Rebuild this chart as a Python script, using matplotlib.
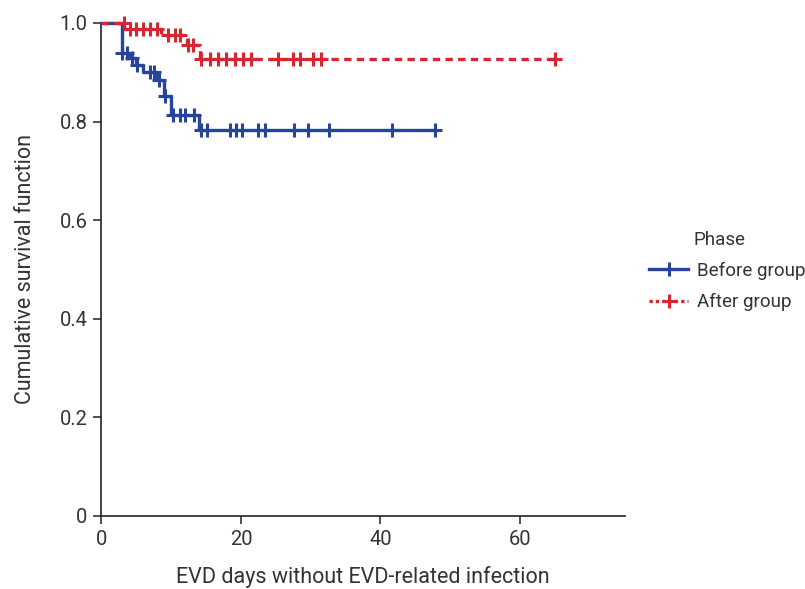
import matplotlib
matplotlib.use("Agg")
import matplotlib.pyplot as plt
from matplotlib.lines import Line2D
import numpy as np

plt.rcParams['font.family'] = ['Roboto', 'DejaVu Sans']

# ---- data ----
before_event_times = [3, 4, 5, 6, 8, 9, 10, 14]
before_survival = [0.940, 0.928, 0.915, 0.901, 0.884, 0.851, 0.813, 0.783]
before_censor_times = [3, 3.6, 4.4, 5.1, 6.9, 7.6, 8.2, 9.1, 10.3, 11.2, 12.0, 13.3,
                       14.3, 15.2, 18.4, 19.3, 20.2, 22.4, 23.5, 27.6, 29.6, 32.6, 41.7, 47.8]

after_event_times = [3.3, 8.6, 12.3, 14.2]
after_survival = [0.987, 0.976, 0.955, 0.926]
after_censor_times = [3.2, 4.1, 5.0, 5.9, 6.9, 7.9, 9.5, 10.5, 11.2, 12.4, 13.1,
                      14.3, 15.5, 16.7, 17.9, 19.1, 20.3, 21.5, 25.3, 27.4, 28.4,
                      30.3, 31.5, 65.0]

group_labels = ["Before group", "After group"]
x_ticks = [0, 20, 40, 60]
x_tick_labels = ["0", "20", "40", "60"]
y_ticks = [0, 0.2, 0.4, 0.6, 0.8, 1.0]
y_tick_labels = ["0", "0.2", "0.4", "0.6", "0.8", "1.0"]

BLUE = "#26449c"
RED = "#d7262f"
TXT = "#333333"
FS = 14.5


def km_curve(ev_t, ev_s, cens):
    t = [0.0] + list(ev_t) + [max(cens)]
    s = [1.0] + list(ev_s) + [ev_s[-1]]
    return np.array(t), np.array(s)


def surv_at(x, ev_t, ev_s):
    s = 1.0
    for t, v in zip(ev_t, ev_s):
        if x >= t:
            s = v
    return s


fig = plt.figure(figsize=(8.05, 5.89), dpi=100)
ax = fig.add_axes([0.126, 0.124, 0.650, 0.837])

MS = 9.5
MEW = 2.2
LW = 2.4

# Before group (solid)
tb, sb = km_curve(before_event_times, before_survival, before_censor_times)
ax.step(tb, sb, where='post', color=BLUE, lw=LW, zorder=3, clip_on=False)
cb = [surv_at(c, before_event_times, before_survival) for c in before_censor_times]
ax.plot(before_censor_times, cb, ls='none', marker='+', ms=MS, mew=MEW,
        color=BLUE, zorder=3, clip_on=False)

# After group (dashed)
ta, sa = km_curve(after_event_times, after_survival, after_censor_times)
ax.step(ta, sa, where='post', color=RED, lw=LW, ls=(0, (2.2, 1.6)), zorder=4,
        clip_on=False)
ca = [surv_at(c, after_event_times, after_survival) for c in after_censor_times]
ax.plot(after_censor_times, ca, ls='none', marker='+', ms=MS, mew=MEW,
        color=RED, zorder=4, clip_on=False)

ax.set_xlim(0, 75)
ax.set_ylim(0, 1.0)
ax.set_xticks(x_ticks)
ax.set_xticklabels(x_tick_labels)
ax.set_yticks(y_ticks)
ax.set_yticklabels(y_tick_labels)
for sp in ['top', 'right']:
    ax.spines[sp].set_visible(False)
for sp in ['left', 'bottom']:
    ax.spines[sp].set_color('#222222')
    ax.spines[sp].set_linewidth(1.2)
ax.tick_params(direction='out', length=6, width=1.1, color='#222222',
               labelsize=FS, labelcolor=TXT, pad=4)

ax.set_xlabel("EVD days without EVD-related infection", fontsize=15.5, color=TXT,
              labelpad=12)
ax.set_ylabel("Cumulative survival function", fontsize=15.5, color=TXT, labelpad=17)

# legend
handles = [
    Line2D([], [], color=BLUE, lw=LW, marker='+', ms=MS, mew=MEW),
    Line2D([], [], color=RED, lw=LW, ls=(0, (1.0, 0.9)), marker='+', ms=MS, mew=MEW),
]
leg = fig.legend(handles, group_labels, loc='upper left',
                 bbox_to_anchor=(0.802, 0.562), frameon=False, fontsize=13.5,
                 handlelength=2.05, handletextpad=0.5, labelspacing=0.72,
                 borderaxespad=0, borderpad=0.2, labelcolor=TXT)
fig.text(0.862, 0.593, "Phase", fontsize=13.5, color=TXT, ha='left', va='center')

fig.savefig("out.png", dpi=100)
